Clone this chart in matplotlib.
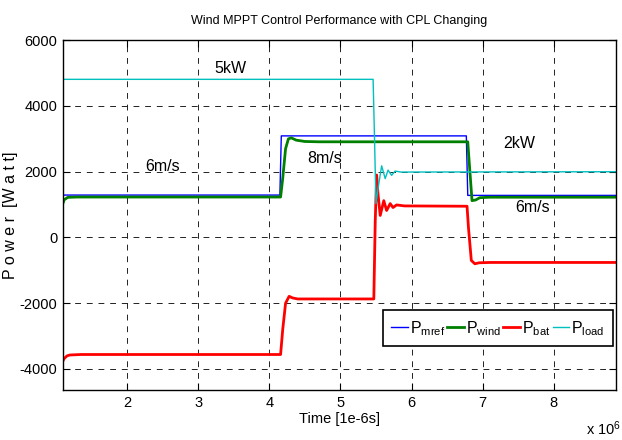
import matplotlib
matplotlib.use('Agg')
import matplotlib.pyplot as plt
from matplotlib import font_manager

# time axis in units of 1e6 (label shows "x 10^6")
t_mref = [1.1, 4.15, 4.17, 6.77, 6.79, 8.9]
p_mref = [1290, 1290, 3090, 3090, 1280, 1280]

t_wind = [1.1, 1.12, 1.17, 1.3, 4.16, 4.19, 4.23, 4.27, 4.31, 4.38, 4.5, 4.7,
          6.79, 6.81, 6.85, 6.9, 6.96, 7.1, 8.9]
p_wind = [1030, 1150, 1220, 1230, 1230, 1800, 2700, 3000, 3030, 2960, 2920, 2910,
          2910, 2300, 1120, 1140, 1210, 1225, 1225]

t_bat = [1.1, 1.12, 1.16, 1.2, 1.35, 4.16, 4.19, 4.23, 4.28, 4.33, 4.4, 4.6,
         5.47, 5.49, 5.51, 5.53, 5.56, 5.61, 5.65, 5.70, 5.74, 5.79, 5.9,
         6.78, 6.80, 6.84, 6.89, 6.95, 7.1, 8.9]
p_bat = [-3760, -3680, -3600, -3575, -3560, -3560, -2800, -2000, -1790, -1840, -1870, -1870,
         -1870, 500, 1900, 1300, 670, 1120, 820, 1030, 910, 990, 960,
         950, 300, -700, -800, -770, -760, -760]

t_load = [1.1, 5.46, 5.48, 5.50, 5.53, 5.58, 5.63, 5.67, 5.72, 5.77, 5.85, 8.9]
p_load = [4810, 4810, 3000, 1030, 1500, 2180, 1790, 2050, 1890, 2020, 1990, 2000]

labels = ['mref', 'wind', 'bat', 'load']
colors = ['#0000ff', '#008000', '#ff0000', '#00bfbf']

notes = [('5kW', 3.45, 5150), ('6m/s', 2.5, 2150), ('8m/s', 4.78, 2400),
         ('2kW', 7.52, 2850), ('6m/s', 7.7, 900)]

installed = {f.name for f in font_manager.fontManager.ttflist}
family = 'Liberation Sans Narrow' if 'Liberation Sans Narrow' in installed else 'Liberation Sans'
plt.rcParams['font.family'] = [family, 'DejaVu Sans']
plt.rcParams['mathtext.fontset'] = 'custom'
plt.rcParams['mathtext.rm'] = family
plt.rcParams['mathtext.it'] = family
plt.rcParams['axes.unicode_minus'] = False

fig = plt.figure(figsize=(6.22, 4.40), dpi=100)
ax = fig.add_axes([0.101, 0.1136, 0.889, 0.795])

series = [(t_mref, p_mref, 1.0), (t_wind, p_wind, 2.0), (t_bat, p_bat, 2.0), (t_load, p_load, 1.0)]
for (t, p, lw), lab, c in zip(series, labels, colors):
    ax.plot(t, p, color=c, lw=lw, label=r'$\mathrm{P}_{\mathrm{%s}}$' % lab)

ax.set_xlim(1.1, 8.87)
ax.set_ylim(-4640, 6000)
ax.set_xticks([2, 3, 4, 5, 6, 7, 8])
ax.set_yticks([-4000, -2000, 0, 2000, 4000, 6000])
ax.tick_params(direction='in', top=True, right=True, length=5, labelsize=10.5, pad=4)
ax.grid(True, color='#222222', linestyle=(0, (6, 6)), linewidth=0.7)
for s in ax.spines.values():
    s.set_linewidth(1.0)

for txt, x, y in notes:
    ax.text(x, y, txt, fontsize=11.5, ha='center', va='center')

ax.set_title('Wind MPPT Control Performance with CPL Changing', fontsize=9, pad=12)
ax.set_xlabel('Time [1e-6s]', fontsize=10.5, labelpad=2)
ax.set_ylabel('P o w e r  [W a t t]', fontsize=11.5, labelpad=1)
fig.text(0.998, 0.012, r'x 10$^{6}$', fontsize=10.5, ha='right')

leg = ax.legend(loc='lower right', bbox_to_anchor=(0.995, 0.125), ncol=4, fontsize=11.5,
                handlelength=1.05, handletextpad=0.1, columnspacing=0.15,
                borderpad=0.55, borderaxespad=0, fancybox=False, framealpha=1,
                edgecolor='black')
leg.get_frame().set_linewidth(1.2)

fig.savefig('out.png', dpi=100)
